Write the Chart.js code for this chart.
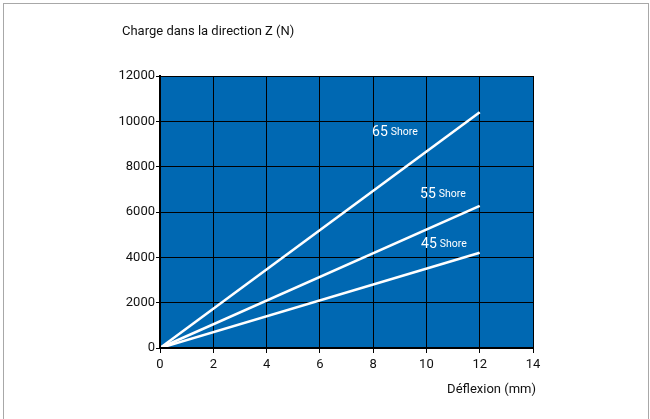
<!DOCTYPE html>
<html><head><meta charset="utf-8">
<script src="https://cdn.jsdelivr.net/npm/chart.js@4/dist/chart.umd.min.js"></script>
<style>
html,body{margin:0;padding:0;background:#fff;}
#wrap{position:relative;width:650px;height:419px;overflow:hidden;}
#frame{position:absolute;left:3px;top:3px;width:646px;height:430px;border:1.5px solid #a8a8a8;box-sizing:border-box;}
canvas{position:absolute;left:0;top:0;}
</style>
</head><body>
<div id="wrap"><div id="frame"></div><canvas id="c" width="650" height="419"></canvas></div>
<script>
const deflection = [0, 12];
const shore65 = [0, 10400];
const shore55 = [0, 6270];
const shore45 = [0, 4200];
const seriesNames = ['65', '55', '45'];
const labelAnchors = [[7.96, 9500], [9.76, 6780], [9.8, 4570]];
const xTicks = [0, 2, 4, 6, 8, 10, 12, 14];
const yTicks = [0, 2000, 4000, 6000, 8000, 10000, 12000];
const yTitle = 'Charge dans la direction Z (N)';
const xTitle = 'Déflexion (mm)';

const FONT = "Roboto,'Liberation Sans Narrow',sans-serif";

const mk = (vals) => deflection.map((x, i) => ({x, y: vals[i]}));

const deco = {
  id: 'deco',
  beforeDraw(chart) {
    const {ctx, chartArea: a} = chart;
    ctx.save();
    ctx.fillStyle = '#0068b2';
    ctx.fillRect(a.left, a.top, a.right - a.left, a.bottom - a.top);
    ctx.restore();
  },
  afterDatasetsDraw(chart) {
    const {ctx, chartArea: a, scales: {x, y}} = chart;
    ctx.save();
    ctx.strokeStyle = '#000';
    ctx.lineWidth = 2;
    ctx.beginPath();
    ctx.moveTo(a.left, a.top - 1);
    ctx.lineTo(a.left, a.bottom);
    ctx.lineTo(a.right + 1, a.bottom);
    ctx.stroke();
    ctx.fillStyle = '#fff';
    ctx.textBaseline = 'middle';
    labelAnchors.forEach((p, i) => {
      const px = x.getPixelForValue(p[0]);
      const py = y.getPixelForValue(p[1]);
      ctx.font = '14px ' + FONT;
      ctx.textAlign = 'left';
      ctx.fillText(seriesNames[i], px, py);
      const w = ctx.measureText(seriesNames[i]).width;
      ctx.font = '10.5px ' + FONT;
      ctx.fillText('Shore', px + w + 3, py);
    });
    ctx.fillStyle = '#111';
    ctx.font = '13px ' + FONT;
    ctx.textAlign = 'left';
    ctx.fillText(yTitle, 122, 32);
    ctx.textAlign = 'right';
    ctx.fillText(xTitle, a.right + 3, 390);
    ctx.restore();
  }
};

new Chart(document.getElementById('c'), {
  type: 'line',
  data: {
    datasets: [
      {label: '65 Shore', data: mk(shore65)},
      {label: '55 Shore', data: mk(shore55)},
      {label: '45 Shore', data: mk(shore45)}
    ].map(d => Object.assign(d, {borderColor: '#ffffff', borderWidth: 2.6, pointRadius: 0, fill: false, tension: 0}))
  },
  options: {
    responsive: false,
    animation: false,
    layout: {padding: {left: 0, right: 117, top: 76, bottom: 0}},
    plugins: {legend: {display: false}, tooltip: {enabled: false}},
    scales: {
      x: {
        type: 'linear', min: 0, max: 14,
        afterBuildTicks: s => { s.ticks = xTicks.map(v => ({value: v})); },
        afterFit: s => { s.height = 71; },
        grid: {color: '#000', lineWidth: 1, tickLength: 5, tickColor: '#000'},
        border: {display: false},
        ticks: {color: '#111', font: {family: FONT, size: 13}, padding: 4, maxRotation: 0, callback: v => String(v)}
      },
      y: {
        type: 'linear', min: 0, max: 12000,
        afterBuildTicks: s => { s.ticks = yTicks.map(v => ({value: v})); },
        afterFit: s => { s.width = 160; },
        grid: {color: '#000', lineWidth: 1, tickLength: 4, tickColor: '#000'},
        border: {display: false},
        ticks: {color: '#111', font: {family: FONT, size: 13}, padding: 1, callback: v => String(v)}
      }
    }
  },
  plugins: [deco]
});
</script>
</body></html>
